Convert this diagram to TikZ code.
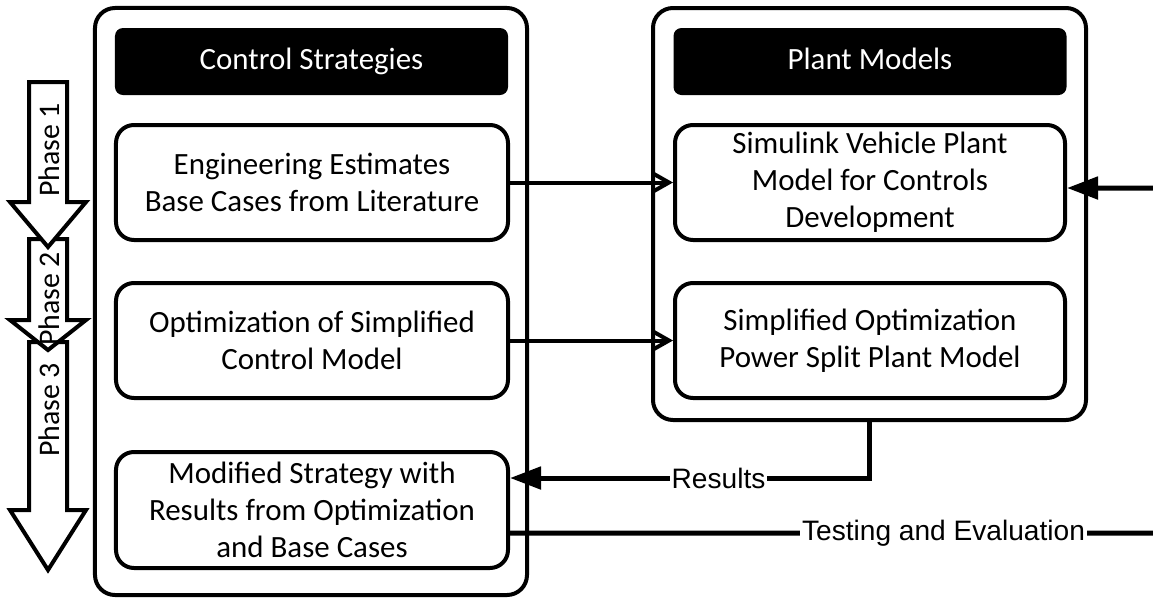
\documentclass[tikz,border=0pt]{standalone}
\usepackage{fontspec}
\setmainfont{Carlito}
\newfontfamily\arialfont{Liberation Sans}
\usetikzlibrary{arrows.meta}

\tikzset{
  panel/.style={draw, line width=0.8mm, rounded corners=4mm},
  header/.style={fill=black, rounded corners=1.6mm, minimum width=78.6mm,
    minimum height=13.4mm, text height=0.9em, text depth=0pt, text=white,
    font=\fontsize{17.6}{21}\selectfont},
  stepbox/.style={draw, line width=0.8mm, rounded corners=3.6mm, inner sep=2pt,
    minimum width=78.4mm, minimum height=23mm, align=center,
    font=\fontsize{17.6}{21}\selectfont},
  phasearrow/.style={draw, line width=0.8mm, fill=white},
  phaselbl/.style={rotate=90, font=\fontsize{17}{20}\selectfont},
  link/.style={line width=0.8mm, -{Straight Barb[length=3mm,width=3.4mm]}},
  feed/.style={line width=1mm, -{Triangle[length=6.2mm,width=4.4mm]}},
  lbl/.style={fill=white, inner sep=1pt, font=\arialfont\fontsize{16}{18}\selectfont}
}

\begin{document}
\begin{tikzpicture}[x=0.2mm, y=-0.2mm]
\useasboundingbox (0,0) rectangle (1153,598);

% phase arrows, last one first
\foreach \ya/\yb/\yc in {342/510/570, 239/320/350, 82/202/247}
  \draw[phasearrow] (29,\ya) -- (67,\ya) -- (67,\yb) -- (86,\yb)
    -- (48,\yc) -- (10,\yb) -- (29,\yb) -- cycle;
\node[phaselbl] (ph1) at (49,150) {Phase 1};
\node[phaselbl] (ph2) at (49,299) {Phase 2};
\node[phaselbl] (ph3) at (49,410) {Phase 3};

% containers
\node[panel, minimum width=86.4mm, minimum height=117.4mm] (strat) at (311,301.5) {};
\node[panel, minimum width=86.6mm, minimum height=82.4mm] (plant) at (869.5,214) {};

\node[header] (cs) at (311.5,61.5) {Control Strategies};
\node[header] (pm) at (870,61.5) {Plant Models};

% control strategies
\node[stepbox] (est) at (312,182.5) {Engineering Estimates\\Base Cases from Literature};
\node[stepbox] (opt) at (312,340.5) {Optimization of Simplified\\Control Model};
\node[stepbox, minimum height=23.2mm] (mod) at (312,510)
  {Modified Strategy with\\Results from Optimization\\and Base Cases};

% plant models
\node[stepbox, minimum width=78mm] (sim) at (870,182.5)
  {Simulink Vehicle Plant\\Model for Controls\\Development};
\node[stepbox, minimum width=78mm] (spl) at (870,340.5)
  {Simplified Optimization\\Power Split Plant Model};

\draw[link] (est) -- (sim);
\draw[link] (opt) -- (spl);

% feedback
\draw[feed] (plant.south) |- node[lbl, pos=0.71] {Results} ([yshift=6.4mm]mod.east);
\coordinate (loop) at (1180,533);
\draw[feed] ([yshift=-4.6mm]mod.east) -- node[lbl, pos=0.647] {Testing and Evaluation} (loop)
  |- ([yshift=-1.1mm]sim.east);

\end{tikzpicture}
\end{document}
